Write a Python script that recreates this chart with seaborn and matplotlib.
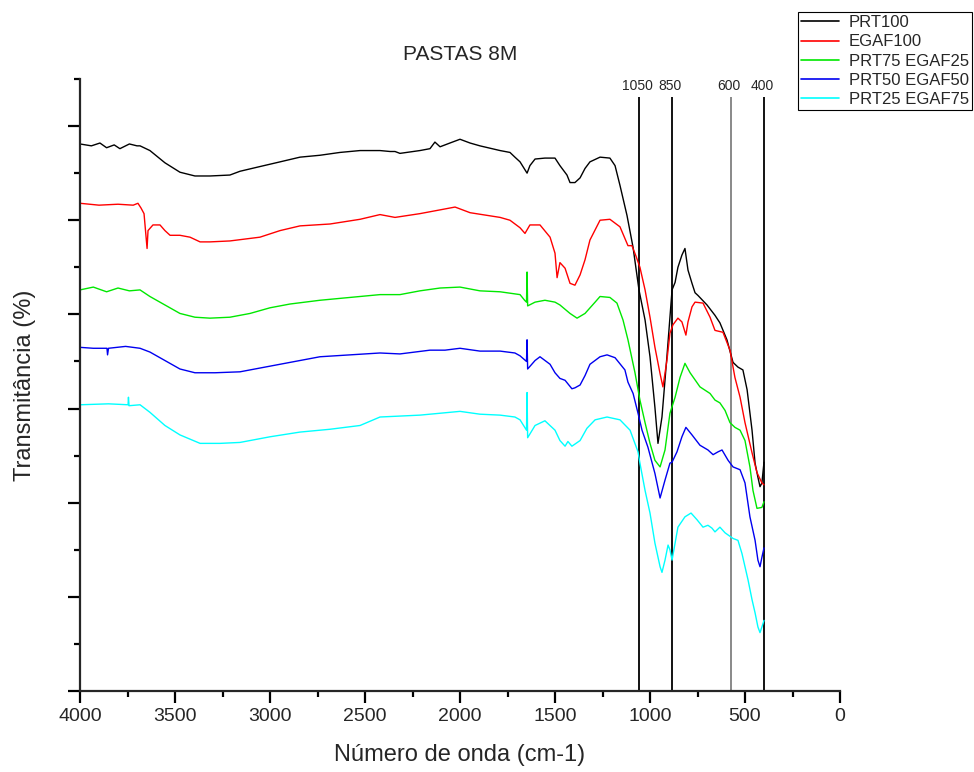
import pandas as pd
import seaborn as sns
import matplotlib.pyplot as plt
from matplotlib.ticker import MultipleLocator, NullFormatter

sns.set_style("ticks")
plt.rcParams['font.family'] = ['Liberation Sans', 'DejaVu Sans']

samples = ["PRT100", "EGAF100", "PRT75 EGAF25", "PRT50 EGAF50", "PRT25 EGAF75"]
colors = ["#000000", "#ff0000", "#00e800", "#0000f0", "#00ffff"]

# espectros (número de onda, transmitância deslocada)
prt100_wn = [4000, 3940, 3895, 3860, 3820, 3790, 3740, 3700, 3684, 3632, 3553, 3474, 3395, 3316,
             3211, 3158, 3053, 2947, 2842, 2737, 2632, 2526, 2421, 2368, 2342, 2316, 2211,
             2158, 2132, 2105, 2053, 2000, 1947, 1895, 1789, 1737, 1711, 1684, 1647, 1632,
             1605, 1553, 1500, 1474, 1437, 1421, 1395, 1368, 1342, 1316, 1263, 1211, 1184,
             1158, 1121, 1089, 1058, 1026, 1000, 974, 958, 937, 911, 895, 884, 868, 853,
             832, 816, 800, 779, 763, 747, 700, 658, 632, 595, 563, 537, 511, 489, 463,
             447, 432, 421, 411, 400]
prt100_t = [58.1, 57.9, 58.2, 57.7, 58.0, 57.6, 58.1, 57.9, 57.9, 57.4, 56.1, 55.1, 54.7, 54.7,
            54.8, 55.2, 55.7, 56.2, 56.7, 56.9, 57.2, 57.4, 57.4, 57.3, 57.3, 57.1, 57.4,
            57.6, 58.3, 57.8, 58.2, 58.6, 58.2, 57.9, 57.4, 57.2, 56.7, 56.2, 55.0, 55.8,
            56.5, 56.6, 56.6, 55.8, 54.8, 54.0, 54.0, 54.5, 55.5, 56.2, 56.7, 56.6, 55.8,
            53.7, 50.5, 47.1, 42.6, 39.4, 35.5, 30.1, 26.3, 29.1, 35.5, 39.7, 42.6, 43.4, 45.0,
            46.3, 47.0, 44.7, 43.3, 42.3, 42.0, 41.0, 39.9, 39.1, 37.3, 34.9, 34.4, 34.1, 32.0,
            27.7, 24.2, 22.7, 21.7, 22.1, 24.3]

egaf100_wn = [4000, 3900, 3800, 3720, 3695, 3679, 3663, 3647, 3642, 3616, 3579, 3553, 3526,
              3474, 3421, 3368, 3316, 3211, 3053, 2947, 2842, 2684, 2526, 2421, 2342, 2211,
              2105, 2026, 1947, 1789, 1737, 1684, 1658, 1632, 1579, 1526, 1500, 1489, 1474,
              1447, 1421, 1395, 1368, 1342, 1316, 1263, 1211, 1158, 1116, 1095, 1074, 1053,
              1026, 1000, 974, 947, 932, 911, 895, 879, 853, 832, 811, 800, 779, 763, 721,
              684, 658, 616, 579, 553, 526, 500, 463, 437, 411, 400]
egaf100_t = [51.8, 51.6, 51.7, 51.6, 51.8, 51.3, 50.7, 47.0, 48.9, 49.5, 49.5, 48.9, 48.4,
             48.4, 48.2, 47.7, 47.7, 47.8, 48.2, 48.9, 49.4, 49.6, 50.1, 50.6, 50.3, 50.7,
             51.1, 51.4, 50.8, 50.3, 50.0, 49.2, 48.6, 49.5, 49.5, 48.2, 46.5, 43.9, 45.5,
             44.9, 43.3, 43.1, 44.2, 45.8, 47.9, 50.0, 50.1, 49.3, 47.3, 47.3, 46.2, 45.0,
             42.6, 39.7, 36.5, 33.7, 32.3, 35.1, 38.0, 38.9, 39.6, 39.2, 37.8, 39.2, 40.8,
             41.3, 41.2, 39.7, 38.3, 38.1, 36.2, 33.3, 31.2, 28.5, 25.3, 23.2, 22.1, 21.9]

prt75_wn = [4000, 3930, 3860, 3800, 3740, 3684, 3632, 3553, 3474, 3395, 3316, 3211, 3105,
            3000, 2895, 2737, 2579, 2421, 2316, 2211, 2105, 2000, 1895, 1789, 1684, 1660,
            1650, 1647, 1644, 1605, 1553, 1500, 1474, 1421, 1384, 1342, 1289, 1263, 1211,
            1174, 1142, 1116, 1079, 1053, 1026, 1000, 974, 947, 921, 895, 868, 842, 816,
            789, 737, 684, 658, 632, 605, 579, 553, 526, 500, 474, 458, 437, 411, 400]
prt75_t = [42.6, 42.9, 42.4, 42.8, 42.5, 42.6, 41.9, 41.0, 40.1, 39.7, 39.6, 39.7, 40.1,
           40.7, 41.1, 41.5, 41.8, 42.1, 42.1, 42.5, 42.8, 42.9, 42.5, 42.4, 42.1, 41.5,
           41.3, 44.5, 40.9, 41.3, 41.5, 41.3, 41.0, 40.1, 39.6, 40.1, 41.3, 41.9, 41.8,
           41.2, 39.4, 37.3, 33.8, 30.9, 28.5, 26.3, 24.5, 23.8, 25.6, 29.5, 31.2, 33.3, 34.8,
           33.8, 32.3, 31.6, 30.9, 30.6, 29.8, 28.5, 28.0, 27.7, 26.6, 23.8, 21.3, 19.4,
           19.5, 20.1]

prt50_wn = [4000, 3930, 3858, 3855, 3850, 3760, 3684, 3632, 3553, 3474, 3395, 3289, 3158,
            3053, 2895, 2737, 2579, 2421, 2316, 2158, 2079, 2000, 1895, 1789, 1711, 1684,
            1650, 1647, 1644, 1605, 1579, 1526, 1500, 1474, 1447, 1411, 1395, 1368, 1342,
            1316, 1263, 1226, 1184, 1132, 1116, 1089, 1063, 1042, 1011, 974, 947, 921, 895,
            884, 858, 832, 811, 779, 737, 695, 668, 642, 621, 589, 563, 526, 500, 474, 447,
            432, 421, 411, 400]
prt50_t = [36.5, 36.4, 36.4, 35.7, 36.4, 36.6, 36.4, 36.0, 35.1, 34.2, 33.8, 33.8, 33.9,
           34.3, 34.9, 35.5, 35.7, 35.9, 35.8, 36.2, 36.2, 36.4, 36.1, 36.1, 35.9, 35.6,
           35.0, 37.3, 34.2, 35.1, 35.5, 34.7, 33.8, 33.2, 33.0, 32.1, 32.2, 32.5, 33.5,
           34.7, 35.5, 35.7, 35.4, 34.1, 32.8, 31.6, 29.5, 27.7, 25.9, 23.1, 20.5, 22.4, 24.2,
           24.3, 25.4, 27.0, 28.0, 27.2, 26.1, 25.6, 25.1, 25.4, 25.6, 24.5, 23.8, 23.5,
           22.1, 18.5, 16.0, 13.9, 13.2, 14.2, 15.2]

prt25_wn = [4000, 3850, 3747, 3745, 3742, 3684, 3632, 3553, 3474, 3368, 3263, 3158, 3000,
            2842, 2684, 2526, 2421, 2316, 2211, 2105, 2000, 1895, 1789, 1711, 1684, 1650,
            1647, 1644, 1605, 1553, 1500, 1474, 1447, 1432, 1411, 1368, 1332, 1289, 1226,
            1158, 1105, 1063, 1053, 1026, 1000, 974, 947, 937, 921, 905, 895, 884, 868, 853,
            816, 784, 753, 721, 695, 674, 658, 632, 605, 563, 537, 516, 500, 484, 463, 447,
            432, 421, 411, 400]
prt25_t = [30.4, 30.5, 30.4, 31.2, 30.3, 30.4, 29.6, 28.2, 27.2, 26.3, 26.3, 26.4, 27.0,
           27.5, 27.8, 28.2, 29.1, 29.2, 29.3, 29.5, 29.7, 29.4, 29.3, 29.1, 28.8, 27.7,
           31.7, 26.9, 28.2, 28.7, 27.7, 26.6, 26.0, 26.5, 26.0, 26.6, 27.9, 28.8, 29.1,
           28.8, 27.7, 25.4, 24.2, 21.3, 18.9, 15.7, 13.2, 12.6, 13.9, 15.5, 15.0, 13.9, 15.7,
           17.4, 18.5, 18.9, 18.2, 17.4, 17.6, 17.3, 16.9, 17.4, 16.8, 16.2, 16.0, 14.6,
           13.2, 11.8, 9.7, 8.3, 6.8, 6.2, 6.8, 7.5]

# linhas verticais de referência
marker_wn = [1058, 884, 574, 400]
marker_labels = ["1050", "850", "600", "400"]
marker_colors = ["black", "black", "#808080", "black"]

frames = []
for name, wn, t in zip(samples,
                       [prt100_wn, egaf100_wn, prt75_wn, prt50_wn, prt25_wn],
                       [prt100_t, egaf100_t, prt75_t, prt50_t, prt25_t]):
    frames.append(pd.DataFrame({"wn": wn, "t": t, "amostra": name}))
df = pd.concat(frames, ignore_index=True)

fig = plt.figure(figsize=(9.74, 7.72), dpi=100)
ax = fig.add_axes([80 / 974, 1 - 691 / 772, 760 / 974, 612 / 772])

sns.lineplot(data=df, x="wn", y="t", hue="amostra", hue_order=samples,
             palette=dict(zip(samples, colors)), estimator=None, sort=False,
             lw=1.0, ax=ax)

for x, lab, c in zip(marker_wn, marker_labels, marker_colors):
    ax.vlines(x, 0, 63.1, color=c, lw=1.3, zorder=1)
    ax.text(x + 10, 64.3, lab, ha="center", va="center", fontsize=10)

ax.set_xlim(4000, 0)
ax.set_ylim(0, 65)
ax.xaxis.set_major_locator(MultipleLocator(500))
ax.xaxis.set_minor_locator(MultipleLocator(250))
ax.yaxis.set_major_locator(MultipleLocator(10))
ax.yaxis.set_minor_locator(MultipleLocator(5))
ax.yaxis.set_major_formatter(NullFormatter())

sns.despine(ax=ax)
for s in ["left", "bottom"]:
    ax.spines[s].set_linewidth(1.6)
ax.tick_params(axis="both", which="major", length=8.5, width=1.6, direction="out",
               labelsize=14, color="black")
ax.tick_params(axis="both", which="minor", length=4.5, width=1.6, direction="out",
               color="black")

ax.set_xlabel("Número de onda (cm-1)", fontsize=17, labelpad=14)
ax.set_ylabel("Transmitância (%)", fontsize=17)
ax.yaxis.set_label_coords(-0.058, 0.5)
ax.set_title("PASTAS 8M", fontsize=15, pad=14)

leg = ax.legend(loc="upper right", bbox_to_anchor=(972 / 974, 1 - 12 / 772),
                bbox_transform=fig.transFigure, borderaxespad=0, fontsize=12,
                frameon=True, fancybox=False, framealpha=1, edgecolor="black",
                handlelength=2.3, handletextpad=0.55, labelspacing=0.25,
                borderpad=0.2)
leg.get_frame().set_linewidth(0.8)
for h in leg.get_lines():
    h.set_linewidth(1.2)

fig.savefig("out.png", dpi=100)
